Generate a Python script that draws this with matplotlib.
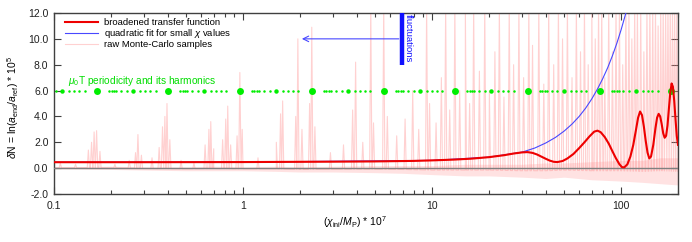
import numpy as np
import matplotlib.pyplot as plt
from matplotlib.ticker import FormatStrFormatter, FixedLocator, LogLocator, NullFormatter

plt.rcParams['font.family'] = ['Liberation Sans', 'DejaVu Sans']
plt.rcParams['mathtext.fontset'] = 'custom'
plt.rcParams['mathtext.rm'] = 'Liberation Sans'
plt.rcParams['mathtext.it'] = 'Liberation Sans:italic'

# broadened transfer function
red_x = [0.1, 0.3, 1, 3, 5, 8, 10, 13, 16, 20, 24, 27, 30, 32, 34, 36, 38, 40, 42, 44,
         46, 49, 52, 56, 60, 64, 68, 72, 75, 78, 82, 86, 90, 94, 98, 101, 104, 108, 112,
         116, 120, 123, 126, 129, 132, 135, 138, 141, 144, 148, 152, 155, 158, 161, 164,
         167, 170, 173, 176, 179, 182, 185, 188, 191, 194, 197, 200]
red_y = [0.46, 0.46, 0.47, 0.5, 0.52, 0.56, 0.6, 0.66, 0.73, 0.85, 1.0, 1.13, 1.22, 1.24,
         1.18, 1.05, 0.88, 0.72, 0.58, 0.49, 0.47, 0.55, 0.75, 1.1, 1.55, 2.0, 2.45, 2.82,
         2.9, 2.78, 2.4, 1.9, 1.3, 0.75, 0.3, 0.08, 0.06, 0.3, 0.9, 1.8, 3.0, 3.9, 4.38,
         4.1, 3.2, 2.1, 1.2, 0.75, 0.9, 1.8, 3.1, 3.9, 4.2, 4.0, 3.4, 2.7, 2.35, 2.5, 3.3,
         4.6, 5.8, 6.55, 6.3, 5.2, 3.8, 2.5, 1.8]

# quadratic fit for small chi
blue_x = [0.1, 1, 10, 20, 30, 35, 40, 45, 50, 55, 60, 65, 70, 75, 80, 85, 90, 95, 100, 106, 110]
blue_y = [0.46, 0.47, 0.6, 0.85, 1.24, 1.56, 1.95, 2.38, 2.87, 3.41, 4.0, 4.65, 5.36, 6.12,
          6.93, 7.78, 8.7, 9.67, 10.7, 12.0, 12.9]

# raw Monte-Carlo samples: noise band + spikes
band_x = [0.1, 0.2, 0.3, 0.5, 0.7, 1, 1.5, 2, 3, 5, 7, 10, 15, 20, 30, 40, 50, 70, 100, 130, 160, 200]
band_lo = [-0.05, -0.1, -0.15, -0.2, -0.2, -0.2, -0.25, -0.3, -0.3, -0.35, -0.4, -0.5, -0.6,
           -0.6, -0.7, -0.8, -0.7, -0.9, -1.0, -1.1, -1.2, -1.3]
band_hi = [0.1, 0.15, 0.1, 0.1, 0.15, 0.1, 0.15, 0.1, 0.15, 0.2, 0.2, 0.2, 0.3, 0.3, 0.3, 0.4,
           0.4, 0.5, 0.6, 0.6, 0.8, 0.8]
spike_x = [0.108, 0.13, 0.152, 0.158, 0.163, 0.168, 0.175, 0.21, 0.25, 0.27, 0.278, 0.29,
           0.33, 0.36, 0.375, 0.386, 0.396, 0.41, 0.47, 0.55, 0.63, 0.66, 0.675, 0.7,
           0.78, 0.81, 0.83, 0.86, 0.93, 0.962, 0.99, 1.2, 1.5, 1.58, 1.62, 1.9,
           1.95, 2.05, 2.25, 2.31, 2.4, 2.9, 3.4, 3.8, 3.94, 4.3, 4.74, 4.9,
           5.55, 5.8, 6.5, 7.2, 7.9, 8.5, 9.36, 9.7, 10.5, 11.2, 11.8, 12.4,
           13.2, 14.0, 15.0, 15.8, 16.6, 17.8, 19.0, 20.1, 21.5, 22.7, 24.0, 25.6,
           27.0, 28.8, 30.5, 32.5, 34.0, 36.7, 39.0, 41.4, 44.0, 46.6, 49.0, 52.0,
           55.0, 58.0, 61.0, 64.0, 67.0, 70.0, 73.0, 76.0, 79.0, 82.0, 86.0, 90.0,
           94.0, 98.0, 102.0, 106.0, 110.0, 114.0, 118.0, 122.0, 127.0, 132.0, 137.0, 142.0,
           147.0, 152.0, 157.0, 162.0, 167.0, 172.0, 177.0, 182.0, 187.0, 192.0, 197.0]
spike_y = [0.4, 0.3, 1.4, 2.0, 2.8, 2.9, 1.3, 0.3, 0.6, 1.2, 2.6, 1.0,
           0.8, 1.6, 3.2, 4.0, 5.0, 2.2, 0.6, 0.4, 1.8, 3.0, 3.6, 1.5,
           2.2, 3.8, 4.8, 1.8, 2.5, 7.4, 3.0, 0.8, 2.0, 4.2, 5.2, 4.0,
           10.0, 3.0, 5.0, 10.9, 3.2, 1.2, 1.8, 4.5, 8.2, 2.0, 12.5, 3.5,
           12.5, 4.0, 2.5, 3.8, 6.0, 3.0, 12.5, 5.0, 3.5, 7.0, 12.5, 4.5,
           12.5, 6.0, 12.5, 5.0, 12.5, 7.5, 12.5, 6.0, 9.0, 12.5, 5.5, 12.5,
           8.0, 12.5, 7.0, 12.5, 9.5, 12.5, 6.5, 12.5, 8.0, 12.5, 10.0, 12.5,
           7.0, 12.5, 9.0, 12.5, 8.0, 12.5, 10.0, 12.5, 12.5, 7.0, 12.5, 9.0,
           12.5, 12.5, 8.0, 12.5, 12.5, 10.0, 12.5, 12.5, 12.5, 9.0, 12.5, 12.5,
           12.5, 12.5, 11.0, 12.5, 12.5, 12.5, 12.5, 12.5, 12.5, 12.5, 12.5]

# mu0 T periodicity: main dots and harmonic ratios within one period
big_x = [0.169, 0.401, 0.962, 2.31, 5.55, 13.3, 32.0, 76.9, 184.0]
harm_ratio = [1.157, 1.193, 1.23, 1.26, 1.339, 1.44, 1.55, 1.688, 1.794, 1.906, 2.038]
harm_mid = 1.55

fig = plt.figure(figsize=(6.92, 2.42), dpi=100)
ax = fig.add_axes([54 / 692, 48 / 242, 624 / 692, 181 / 242])
ax.set_xscale('log')

# raw samples
band_mid = [(a + b) / 2 for a, b in zip(band_lo, band_hi)]
ax.fill_between(band_x, band_lo, band_hi, color='#ffb8b8', alpha=0.4, lw=0, zorder=1)
w = 0.006
px, py = list(band_x), list(band_mid)
for xs, h in zip(spike_x, spike_y):
    b = np.interp(np.log10(xs), np.log10(band_x), band_mid)
    px += [xs * 10 ** -w, xs, xs * 10 ** w]
    py += [b, h, b]
order = np.argsort(px)
raw_line, = ax.plot(np.array(px)[order], np.array(py)[order], color='#ff8c8c', lw=0.8,
                    alpha=0.4, zorder=2, label='raw Monte-Carlo samples')

ax.axhline(0, color='#808080', lw=1.0, zorder=3)

# green periodicity dots
L0 = big_x[0] ** 2 / big_x[1]
for L in [L0] + big_x:
    for r in harm_ratio:
        ms = 3.2 if r == harm_mid else 1.8
        ax.plot(L * r, 6.0, 'o', color='#00ee00', ms=ms, mew=0, zorder=4)
ax.plot(big_x, [6.0] * len(big_x), 'o', color='#00ee00', ms=5, mew=0, zorder=4)
ax.text(0.118, 6.75, r'$\mu_0$T periodicity and its harmonics', color='#00dd00', fontsize=7.3,
        va='center', ha='left')

blue_line, = ax.plot(blue_x, blue_y, color='#4848ff', lw=0.8, zorder=5,
                     label=r'quadratic fit for small $\chi$ values')
red_line, = ax.plot(red_x, red_y, color='#ee0000', lw=1.5, zorder=6,
                    label='broadened transfer function')

# fluctuations annotation
ax.annotate('', xy=(1.98, 10.0), xytext=(6.9, 10.0),
            arrowprops=dict(arrowstyle='->', color='#4848ff', lw=0.8))
ax.plot([6.9, 6.9], [8.0, 12.0], color='#1010ff', lw=3.2, zorder=7, solid_capstyle='butt')
ax.text(7.05, 11.95, 'fluctuations', rotation=-90, va='top', ha='left', color='#1010ff',
        fontsize=6.8)

ax.set_xlim(0.1, 200)
ax.set_ylim(-2, 12)
ax.xaxis.set_major_locator(FixedLocator([0.1, 1, 10, 100]))
ax.set_xticklabels(['0.1', '1', '10', '100'])
ax.xaxis.set_minor_locator(LogLocator(base=10, subs=np.arange(2, 10)))
ax.xaxis.set_minor_formatter(NullFormatter())
ax.set_yticks(np.arange(-2, 13, 2))
ax.yaxis.set_major_formatter(FormatStrFormatter('%.1f'))
ax.tick_params(which='both', direction='in', top=True, right=True, colors='#404040',
               labelcolor='#202020', labelsize=7.5)
ax.tick_params(which='major', length=5, width=0.8)
ax.tick_params(which='minor', length=3, width=0.8)
ax.tick_params(axis='x', pad=5)
ax.tick_params(axis='y', pad=4)
for s in ax.spines.values():
    s.set_color('#404040')
    s.set_linewidth(1.0)

ax.set_xlabel(r'($\chi_{\rm ini}$/$M_{\rm P}$) * 10$^7$', fontsize=7.5)
ax.xaxis.set_label_coords((355 - 54) / 624, -0.11)
ax.set_ylabel(r'$\delta$N = ln($a_{\rm end}$/$a_{\rm ref}$) * 10$^5$', fontsize=7.5)
ax.yaxis.set_label_coords(-0.053, 0.48)

ax.legend(handles=[red_line, blue_line, raw_line], loc='upper left',
          bbox_to_anchor=(0.018, 0.972), frameon=False, fontsize=6.8, borderpad=0,
          borderaxespad=0, labelspacing=0.02, handlelength=3.5, handletextpad=0.6)

fig.savefig('out.png', dpi=100)
